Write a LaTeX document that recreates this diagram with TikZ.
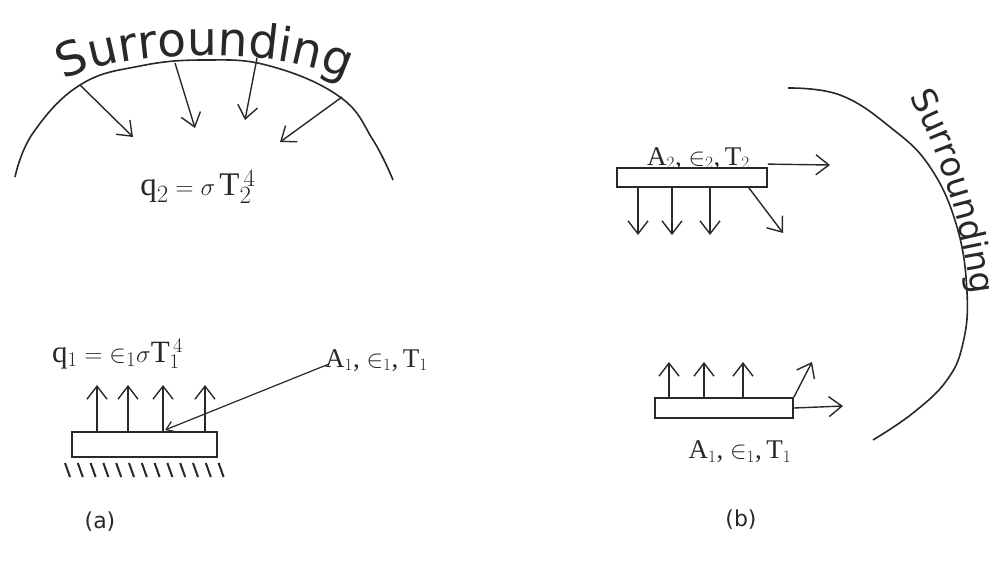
\documentclass[tikz,border=0pt]{standalone}
\usepackage{fontspec}
\setmainfont{Liberation Serif}
\setsansfont{DejaVu Sans}
\usetikzlibrary{arrows.meta,decorations.text}
\definecolor{ink}{RGB}{40,40,40}
\newcommand{\surrA}{\sffamily\fontsize{47}{47}\selectfont\color{ink}}
\newcommand{\surrB}{\sffamily\fontsize{34}{34}\selectfont\color{ink}}
\newcommand{\elt}{\mathord{\in}}
\tikzset{
  surface/.style={draw=ink, line width=1.8pt, rectangle, inner sep=0pt, fill=white},
  ray/.style={draw=ink, line width=1.4pt, -{Straight Barb[length=13pt,width=20pt,line width=1.4pt]}},
  pointer/.style={draw=ink, line width=1.2pt, -{Straight Barb[length=8pt,width=11pt,line width=1.2pt]}},
  bound/.style={draw=ink, line width=1.6pt},
  hatch/.style={draw=ink, line width=2pt},
  mathlab/.style={text=ink, inner sep=0pt, font=\fontsize{31}{34}\selectfont},
  sublab/.style={text=ink, inner sep=0pt, font=\fontsize{27}{30}\selectfont},
  caption/.style={text=ink, inner sep=0pt, font=\sffamily\fontsize{22}{26}\selectfont},
}
\begin{document}
\begin{tikzpicture}[x=1pt,y=-1pt]
\useasboundingbox (0,0) rectangle (1000,586);

% ---------------- (a) ----------------
\draw[bound] plot[smooth, tension=0.7] coordinates {(15,177) (33,133) (80,85) (140,66) (205,60) (270,66) (340,97) (373,140) (393,180)};
\path[decorate, decoration={text along path, text={|\surrA|Surrounding}, text align=center}]
  (58,84) .. controls (115,46) and (295,46) .. (352,84);

\coordinate (s1) at (80,85);   \coordinate (t1) at (133,137);
\coordinate (s2) at (175,63);  \coordinate (t2) at (195,128);
\coordinate (s3) at (257,58);  \coordinate (t3) at (245,120);
\coordinate (s4) at (342,97);  \coordinate (t4) at (280,142);
\draw[ray] (s1) -- (t1);
\draw[ray] (s2) -- (t2);
\draw[ray] (s3) -- (t3);
\draw[ray] (s4) -- (t4);

\node[mathlab, font=\fontsize{33}{36}\selectfont] (q2) at (198,187) {$\mathrm{q}_2 = \sigma\,\mathrm{T}_2^{\,4}$};

\node[surface, minimum width=145pt, minimum height=25pt] (pa) at (144.5,444.5) {};
\foreach \i in {0,...,12}
  \draw[hatch] (65+12.8*\i,463) -- (70+12.8*\i,477);

\coordinate (ua1) at (97,385);
\coordinate (ua2) at (128,385);
\coordinate (ua3) at (163,385);
\coordinate (ua4) at (205,385);
\foreach \c in {ua1,ua2,ua3,ua4}
  \draw[ray] (pa.north -| \c) -- (\c);

\node[mathlab, anchor=base west] (q1) at (52,362) {$\mathrm{q}_1 = \elt_1\sigma\mathrm{T}_1^{\,4}$};
\node[sublab, anchor=base west] (la) at (325,367) {A$_1$,\ $\elt_1$,\,T$_1$};
\coordinate (tipa) at (165,430);
\draw[pointer] ([xshift=4pt,yshift=3pt]la.base west) -- (tipa);

\node[caption] (capa) at (100,522) {(a)};

% ---------------- (b) ----------------
\draw[bound] plot[smooth, tension=0.7] coordinates {(788,88) (840,95) (890,127) (930,167) (957,227) (967,293) (963,343) (947,380) (913,413) (873,440)};
\path[decorate, decoration={text along path, text={|\surrB|Surrounding}, text align=center}]
  (906,90) .. controls (940,150) and (962,220) .. (972,302);

\node[surface, minimum width=150pt, minimum height=19pt] (pt) at (692,177.5) {};
\node[sublab, anchor=base west] (lt) at (647,165) {A$_2$,\ $\elt_2$,\,T$_2$};
\coordinate (dt1) at (638,235);
\coordinate (dt2) at (672,235);
\coordinate (dt3) at (710,235);
\foreach \c in {dt1,dt2,dt3}
  \draw[ray] (pt.south -| \c) -- (\c);
\coordinate (dd) at (783,233);
\draw[ray] ([xshift=-19pt]pt.south east) -- (dd);
\coordinate (rt) at (830,165);
\draw[ray] ([yshift=3pt]pt.north east) -- (rt);

\node[surface, minimum width=138pt, minimum height=20pt] (pb) at (724,408) {};
\coordinate (ub1) at (669,362);
\coordinate (ub2) at (704,362);
\coordinate (ub3) at (743,362);
\foreach \c in {ub1,ub2,ub3}
  \draw[ray] (pb.north -| \c) -- (\c);
\coordinate (ud) at (812,362);
\draw[ray] (pb.north east) -- (ud);
\coordinate (rb) at (843,406);
\draw[ray] (pb.east) -- (rb);
\node[sublab, anchor=center] (lb) at (740,452) {A$_1$,\ $\elt_1$,\,T$_1$};

\node[caption] (capb) at (741,520) {(b)};
\end{tikzpicture}
\end{document}
